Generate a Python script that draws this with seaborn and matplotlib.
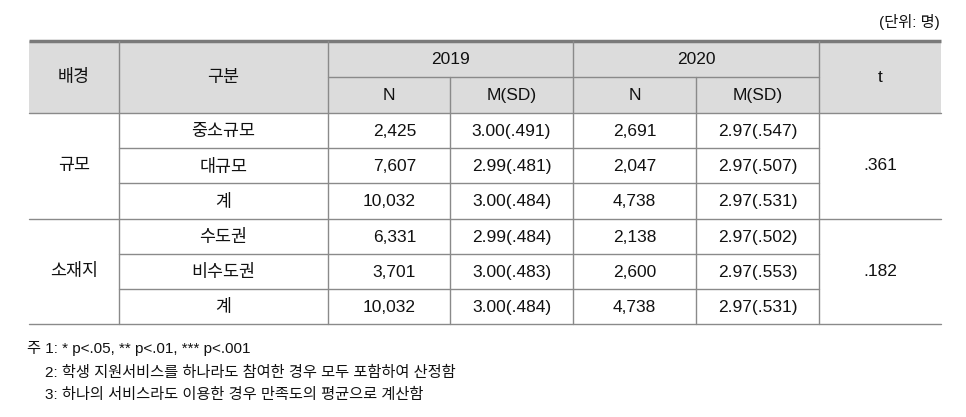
import matplotlib
matplotlib.use("Agg")
import matplotlib.pyplot as plt
import seaborn as sns

# --- data ---
backgrounds = ["규모", "소재지"]
groups = ["중소규모", "대규모", "계", "수도권", "비수도권", "계"]
n_2019 = [2425, 7607, 10032, 6331, 3701, 10032]
m_2019 = [3.00, 2.99, 3.00, 2.99, 3.00, 3.00]
sd_2019 = [0.491, 0.481, 0.484, 0.484, 0.483, 0.484]
n_2020 = [2691, 2047, 4738, 2138, 2600, 4738]
m_2020 = [2.97, 2.97, 2.97, 2.97, 2.97, 2.97]
sd_2020 = [0.547, 0.507, 0.531, 0.502, 0.553, 0.531]
t_values = [0.361, 0.182]
years = ["2019", "2020"]
notes = ["주 1: * p<.05, ** p<.01, *** p<.001",
         "2: 학생 지원서비스를 하나라도 참여한 경우 모두 포함하여 산정함",
         "3: 하나의 서비스라도 이용한 경우 만족도의 평균으로 계산함"]
unit_label = "(단위: 명)"

sns.set_theme(style="white")
# Latin glyphs from an Arial-like face, Hangul falls back to Noto CJK
plt.rcParams["font.family"] = ["Liberation Sans", "Noto Sans CJK KR", "DejaVu Sans"]


def msd(m, sd):
    return f"{m:.2f}({f'{sd:.3f}'[1:]})"


# layout in pixel coordinates
W, H = 966, 417
xs = [29, 119, 328, 450, 573, 696, 819, 941]
y_top, y_mid, y_head = 41, 77, 113
row_h = (324 - 113) / 6
rows = [y_head + i * row_h for i in range(7)]
line_c = "#8a8a8a"
fs = 12.5

fig = plt.figure(figsize=(W / 100, H / 100), dpi=100)
ax = fig.add_axes([0, 0, 1, 1])
ax.set_xlim(0, W)
ax.set_ylim(H, 0)
ax.axis("off")

# header shading
ax.fill_between([xs[0], xs[-1]], y_top, y_head, color="#dcdcdc", lw=0)

# horizontal lines
ax.plot([xs[0], xs[-1]], [y_top, y_top], color="#7a7a7a", lw=2.5, solid_capstyle="butt")
ax.plot([xs[2], xs[6]], [y_mid, y_mid], color=line_c, lw=1)
ax.plot([xs[0], xs[-1]], [y_head, y_head], color=line_c, lw=1)
for i, y in enumerate(rows[1:], start=1):
    if i % 3 == 0:
        ax.plot([xs[0], xs[-1]], [y, y], color=line_c, lw=1)
    else:
        ax.plot([xs[1], xs[6]], [y, y], color=line_c, lw=1)

# vertical lines
for x in [xs[1], xs[2], xs[4], xs[6]]:
    ax.plot([x, x], [y_top, rows[-1]], color=line_c, lw=1)
for x in [xs[3], xs[5]]:
    ax.plot([x, x], [y_mid, rows[-1]], color=line_c, lw=1)

# header text
def cx(i):
    return (xs[i] + xs[i + 1]) / 2

kw = dict(ha="center", va="center", fontsize=fs, color="#111111")
ax.text(cx(0), (y_top + y_head) / 2, "배경", **kw)
ax.text(cx(1), (y_top + y_head) / 2, "구분", **kw)
ax.text(cx(6), (y_top + y_head) / 2, "t", **kw)
ax.text((xs[2] + xs[4]) / 2, (y_top + y_mid) / 2, years[0], **kw)
ax.text((xs[4] + xs[6]) / 2, (y_top + y_mid) / 2, years[1], **kw)
for i, lab in zip(range(2, 6), ["N", "M(SD)", "N", "M(SD)"]):
    ax.text(cx(i), (y_mid + y_head) / 2, lab, **kw)

# body text
for k, bg in enumerate(backgrounds):
    yc = (rows[3 * k] + rows[3 * k + 3]) / 2
    ax.text(cx(0), yc, bg, **kw)
    ax.text(cx(6), yc, f"{t_values[k]:.3f}"[1:], **kw)

for r in range(6):
    yc = (rows[r] + rows[r + 1]) / 2 + 1
    ax.text(cx(1), yc, groups[r], **kw)
    ax.text(xs[3] - 34, yc, f"{n_2019[r]:,}", ha="right", va="center",
            fontsize=fs, color="#111111")
    ax.text(cx(3), yc, msd(m_2019[r], sd_2019[r]), **kw)
    ax.text(cx(4), yc, f"{n_2020[r]:,}", **kw)
    ax.text(cx(5), yc, msd(m_2020[r], sd_2020[r]), **kw)

# unit and notes
ax.text(940, 22, unit_label, ha="right", va="center", fontsize=11, color="#111111")
ax.text(27, 349, notes[0], ha="left", va="center", fontsize=11, color="#111111")
ax.text(45, 373, notes[1], ha="left", va="center", fontsize=11, color="#111111")
ax.text(45, 395, notes[2], ha="left", va="center", fontsize=11, color="#111111")

fig.savefig("out.png", dpi=100)
